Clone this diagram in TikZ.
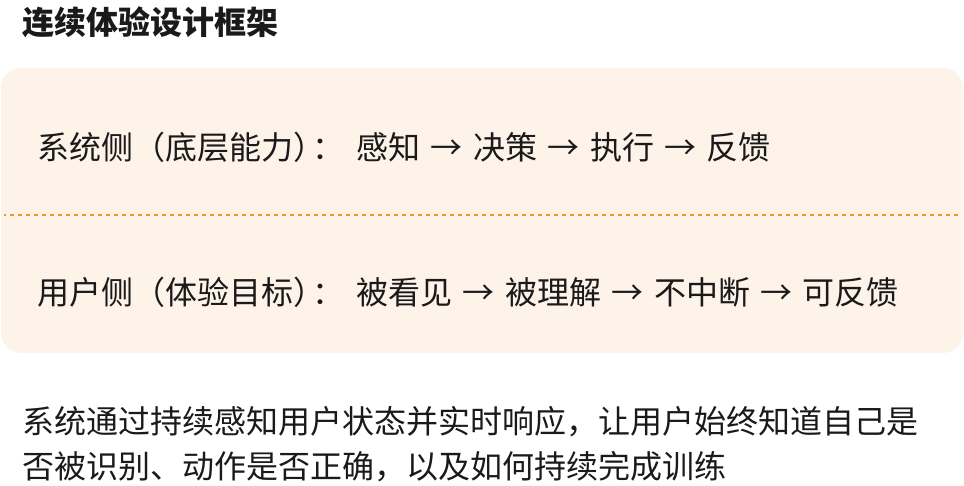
\documentclass[tikz,border=0pt]{standalone}
\usepackage{fontspec}
\setmainfont{Noto Sans CJK SC}
\usetikzlibrary{positioning}
\definecolor{panelfill}{HTML}{FEF3E9}
\definecolor{dashorange}{HTML}{F7922F}
\definecolor{inktext}{HTML}{1A1A1A}
\newcommand{\stepto}{\hspace{3.3pt}→\hspace{3.3pt}}
\newcommand{\rowcolon}{\kern-13pt：\kern12pt}
\tikzset{
  body text/.style={anchor=base west, inner sep=0pt, text=inktext, font=\fontsize{32}{45}\selectfont},
  title text/.style={body text, font=\fontsize{32}{45}\selectfont\bfseries},
  panel/.style={fill=panelfill, rounded corners=20pt},
  divider/.style={draw=dashorange, line width=2pt, dash pattern=on 4pt off 4pt, dash phase=2pt},
}

\begin{document}
\begin{tikzpicture}[x=1pt,y=-1pt]
    \useasboundingbox (0,0) rectangle (964,486);

    \node[title text] (title) at (22,34.5) {连续体验设计框架};

    \path[panel] (1,68) rectangle (963,353);
    \coordinate (divider_left) at (4,215);
    \coordinate (divider_right) at (958,215);
    \draw[divider] (divider_left) -- (divider_right);

    \node[body text] (system_row) at (37,160) {系统侧（底层能力）\rowcolon 感知 \stepto{} 决策 \stepto{} 执行 \stepto{} 反馈};
    \node[body text] (user_row) at (37,305) {用户侧（体验目标）\rowcolon 被看见 \stepto{} 被理解 \stepto{} 不中断 \stepto{} 可反馈};

    \node[body text] (summary1) at (22,433) {系统通过持续感知用户状态并实时响应，让用户始终知道自己是};
    \node[body text] (summary2) at ([yshift=-45pt]summary1.base west) {否被识别、动作是否正确，以及如何持续完成训练};
\end{tikzpicture}
\end{document}
